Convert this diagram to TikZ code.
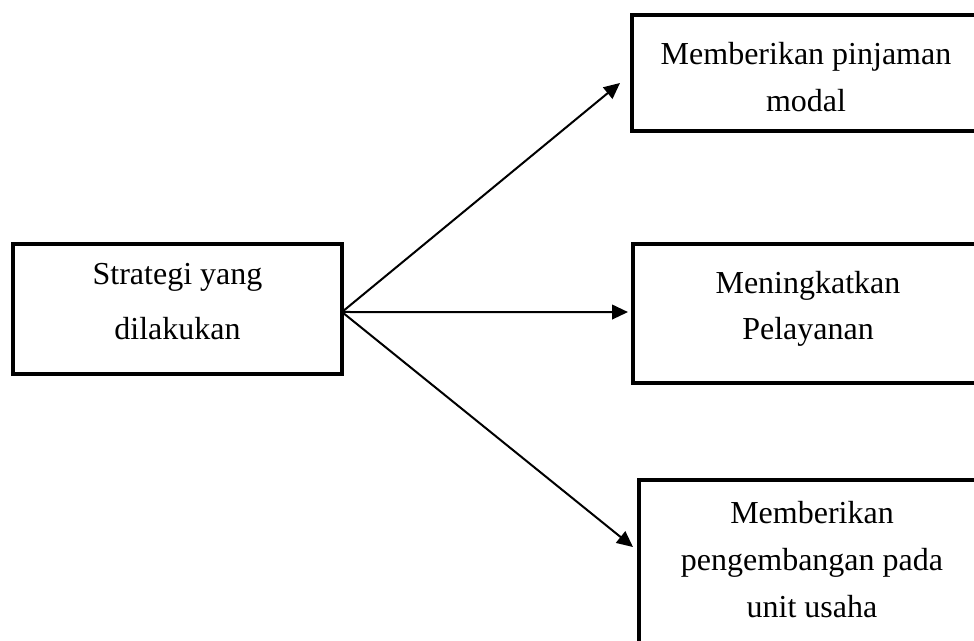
\documentclass[tikz,border=0pt]{standalone}
\usepackage{fontspec}
\setmainfont{Liberation Serif}
\usetikzlibrary{arrows.meta}
\newcommand\mytop[1]{\rule{0pt}{#1pt}}
\newcommand\mybot[1]{\rule[-#1pt]{0pt}{#1pt}}
\begin{document}
\begin{tikzpicture}[x=0.75pt,y=-0.75pt,
  box/.style={draw, line width=3pt, inner sep=0pt, outer sep=0pt, align=center, anchor=north,
    font=\fontsize{24}{35.25}\selectfont},
  arr/.style={line width=1.5pt, -{Triangle[length=12pt,width=11pt]}}]
\useasboundingbox (0,0) rectangle (974,641);
\clip (0,0) rectangle (974,641);
\node[box, minimum width=246.75pt, font=\fontsize{24}{41.25}\selectfont] (s) at (177.5,244)
  {\mytop{30.75}Strategi yang\\dilakukan\mybot{25.5}};
\node[box, minimum width=261pt] (b1) at (806,15)
  {\mytop{37.5}Memberikan pinjaman\\modal\mybot{14.25}};
\node[box, minimum width=262.5pt] (b2) at (808,244)
  {\mytop{36.75}Meningkatkan\\Pelayanan\mybot{32.25}};
\node[box, minimum width=259.5pt] (b3) at (812,480)
  {\mytop{32.25}Memberikan\\pengembangan pada\\unit usaha\mybot{30}};
\draw[arr] ([yshift=-2.25pt]s.east) -- ([xshift=-9pt,yshift=-7.5pt]b1.west);
\draw[arr] ([yshift=-2.25pt]s.east) -- ([xshift=-3.75pt,yshift=1.1pt]b2.west);
\draw[arr] ([yshift=-2.25pt]s.east) -- ([xshift=-4.5pt,yshift=16.1pt]b3.west);
\end{tikzpicture}
\end{document}
